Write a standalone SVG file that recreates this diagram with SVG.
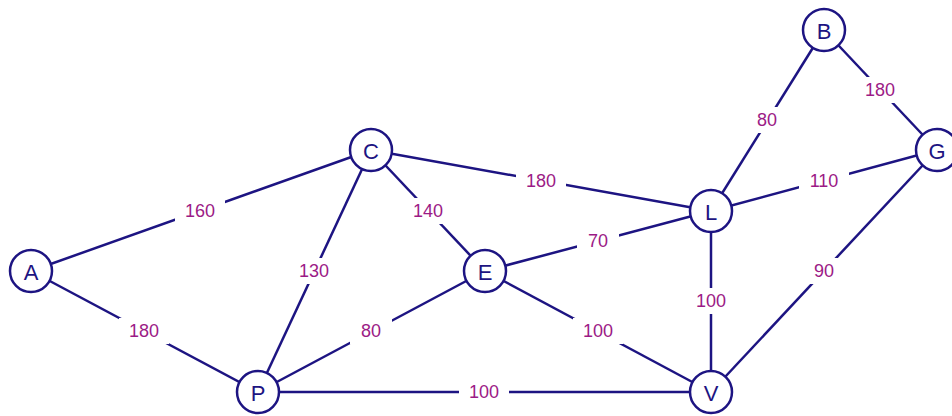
<svg xmlns="http://www.w3.org/2000/svg" width="952" height="416" viewBox="0 0 952 416">
<style>
.e{stroke:#1d1482;stroke-width:2.5;fill:none}
.n circle{fill:#fff;stroke:#1d1482;stroke-width:2.5}
.n text{font-family:"Liberation Sans",Arial,sans-serif;font-size:22px;fill:#1d1482;text-anchor:middle;dominant-baseline:central}
.lb rect{fill:#fff}
.lb text{font-family:"Liberation Sans",Arial,sans-serif;font-size:18px;fill:#9c1a86;text-anchor:middle;dominant-baseline:central}
</style>
<rect width="952" height="416" fill="#fff"/>
<g id="connectors">
<line class="e" x1="31" y1="271" x2="371" y2="150"/>
<line class="e" x1="31" y1="271" x2="258" y2="392"/>
<line class="e" x1="371" y1="150" x2="258" y2="392"/>
<line class="e" x1="371" y1="150" x2="485" y2="271"/>
<line class="e" x1="371" y1="150" x2="711" y2="211"/>
<line class="e" x1="258" y1="392" x2="485" y2="271"/>
<line class="e" x1="258" y1="392" x2="711" y2="392"/>
<line class="e" x1="485" y1="271" x2="711" y2="211"/>
<line class="e" x1="485" y1="271" x2="711" y2="392"/>
<line class="e" x1="711" y1="211" x2="711" y2="392"/>
<line class="e" x1="711" y1="211" x2="824" y2="30"/>
<line class="e" x1="711" y1="211" x2="937" y2="150"/>
<line class="e" x1="824" y1="30" x2="937" y2="150"/>
<line class="e" x1="937" y1="150" x2="711" y2="392"/>
<g class="lb">
<rect x="175" y="198" width="50" height="26"/><text x="200" y="211">160</text>
<rect x="119" y="318" width="50" height="26"/><text x="144" y="331">180</text>
<rect x="289" y="258" width="50" height="26"/><text x="314" y="271">130</text>
<rect x="403" y="198" width="50" height="26"/><text x="428" y="211">140</text>
<rect x="516" y="168" width="50" height="26"/><text x="541" y="181">180</text>
<rect x="350" y="318" width="42" height="26"/><text x="371" y="331">80</text>
<rect x="459" y="379" width="50" height="26"/><text x="484" y="392">100</text>
<rect x="577" y="228" width="42" height="26"/><text x="598" y="241">70</text>
<rect x="573" y="318" width="50" height="26"/><text x="598" y="331">100</text>
<rect x="686" y="288" width="50" height="26"/><text x="711" y="301">100</text>
<rect x="746" y="107" width="42" height="26"/><text x="767" y="120">80</text>
<rect x="799" y="168" width="50" height="26"/><text x="824" y="181">110</text>
<rect x="855" y="77" width="50" height="26"/><text x="880" y="90">180</text>
<rect x="803" y="258" width="42" height="26"/><text x="824" y="271">90</text>
</g>
</g>
<g id="A" class="n"><circle cx="31" cy="271" r="21"/><text x="31" y="272">A</text></g>
<g id="C" class="n"><circle cx="371" cy="150" r="21"/><text x="371" y="151">C</text></g>
<g id="E" class="n"><circle cx="485" cy="271" r="21"/><text x="485" y="272">E</text></g>
<g id="P" class="n"><circle cx="258" cy="392" r="21"/><text x="258" y="393">P</text></g>
<g id="V" class="n"><circle cx="711" cy="392" r="21"/><text x="711" y="393">V</text></g>
<g id="L" class="n"><circle cx="711" cy="211" r="21"/><text x="711" y="212">L</text></g>
<g id="B" class="n"><circle cx="824" cy="30" r="21"/><text x="824" y="31">B</text></g>
<g id="G" class="n"><circle cx="937" cy="150" r="21"/><text x="937" y="151">G</text></g>
</svg>
